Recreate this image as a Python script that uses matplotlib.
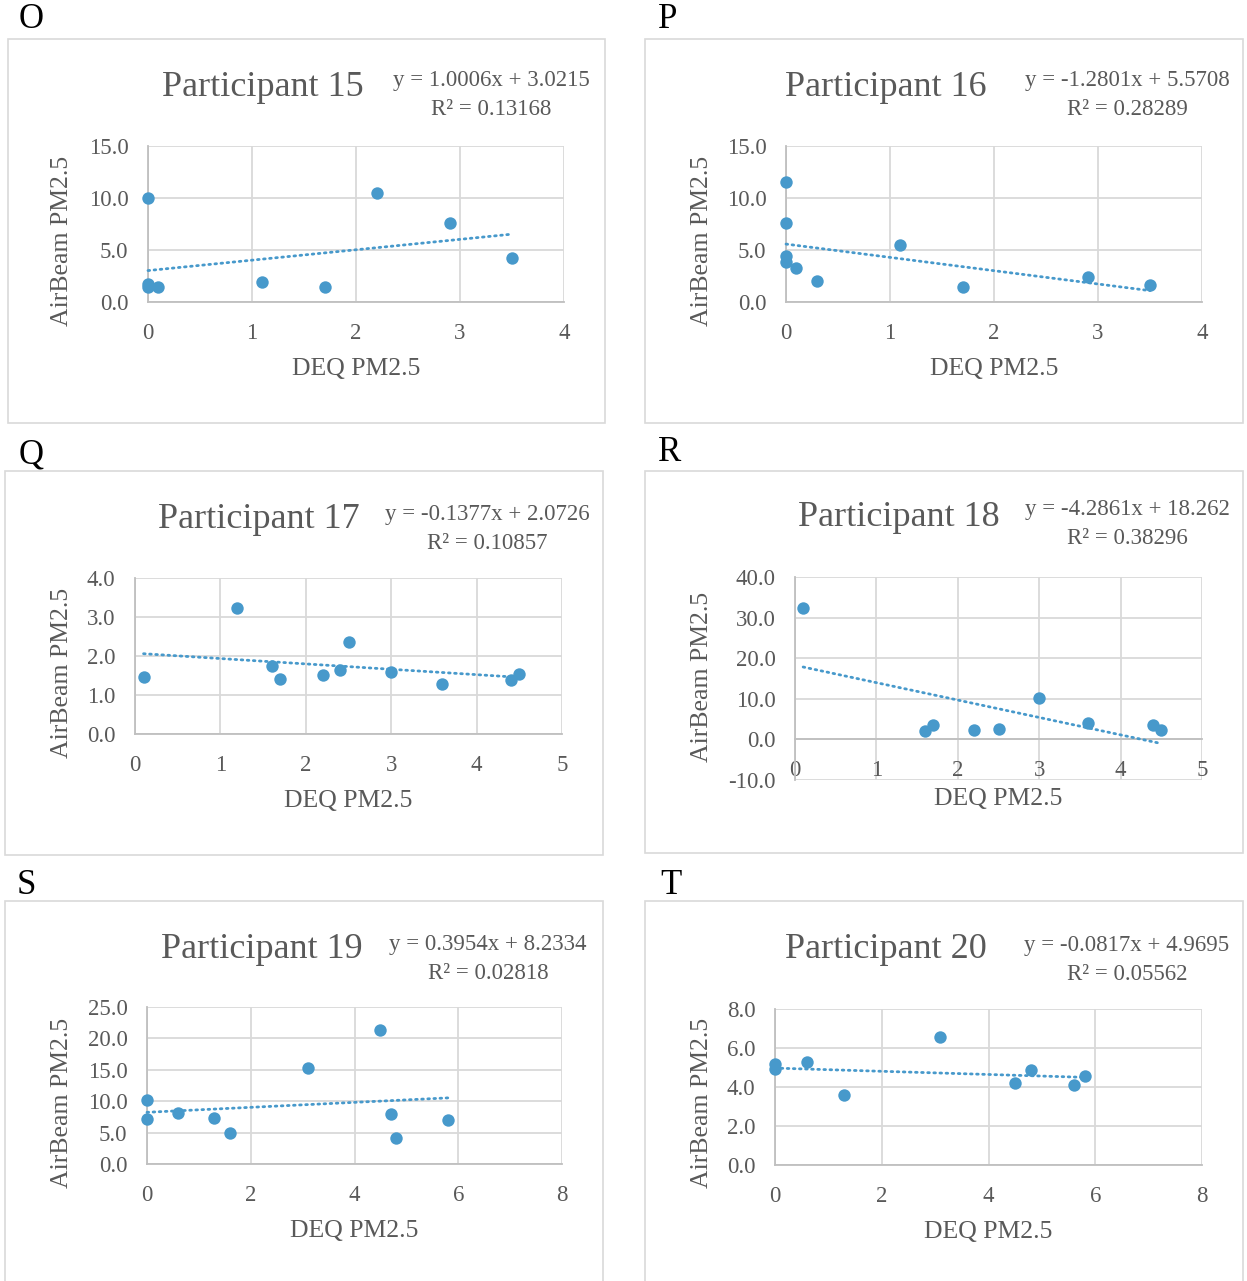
import matplotlib
matplotlib.use("Agg")
import matplotlib.pyplot as plt
from matplotlib.patches import Rectangle
import numpy as np

plt.rcParams['font.family'] = ['Liberation Serif', 'DejaVu Serif']

# ---------------- data ----------------
letters = ["O", "P", "Q", "R", "S", "T"]
titles = ["Participant 15", "Participant 16", "Participant 17",
          "Participant 18", "Participant 19", "Participant 20"]
equations = ["y = 1.0006x + 3.0215", "y = -1.2801x + 5.5708", "y = -0.1377x + 2.0726",
             "y = -4.2861x + 18.262", "y = 0.3954x + 8.2334", "y = -0.0817x + 4.9695"]
r2_labels = ["R² = 0.13168", "R² = 0.28289", "R² = 0.10857",
             "R² = 0.38296", "R² = 0.02818", "R² = 0.05562"]
slopes = [1.0006, -1.2801, -0.1377, -4.2861, 0.3954, -0.0817]
intercepts = [3.0215, 5.5708, 2.0726, 18.262, 8.2334, 4.9695]

p15_x = [0, 0, 0, 0.1, 1.1, 1.7, 2.2, 2.9, 3.5]
p15_y = [10.0, 1.7, 1.45, 1.47, 1.9, 1.47, 10.45, 7.6, 4.2]

p16_x = [0, 0, 0, 0, 0.1, 0.3, 1.1, 1.7, 2.9, 3.5]
p16_y = [11.5, 7.56, 4.45, 3.8, 3.27, 2.0, 5.5, 1.4, 2.4, 1.6]

p17_x = [0.1, 1.2, 1.6, 1.7, 2.2, 2.4, 2.5, 3.0, 3.6, 4.4, 4.5]
p17_y = [1.47, 3.22, 1.74, 1.41, 1.51, 1.63, 2.37, 1.58, 1.29, 1.39, 1.55]

p18_x = [0.1, 1.6, 1.7, 2.2, 2.5, 3.0, 3.6, 4.4, 4.5]
p18_y = [32.3, 2.1, 3.66, 2.3, 2.5, 10.3, 4.1, 3.5, 2.4]

p19_x = [0, 0, 0.6, 1.3, 1.6, 3.1, 4.5, 4.7, 4.8, 5.8]
p19_y = [10.2, 7.1, 8.1, 7.3, 4.95, 15.3, 21.4, 8.0, 4.2, 7.0]

p20_x = [0, 0, 0.6, 1.3, 3.1, 4.5, 4.8, 5.6, 5.8]
p20_y = [5.2, 4.94, 5.29, 3.58, 6.56, 4.21, 4.89, 4.1, 4.56]

xs = [p15_x, p16_x, p17_x, p18_x, p19_x, p20_x]
ys = [p15_y, p16_y, p17_y, p18_y, p19_y, p20_y]

x_ticks = [[0, 1, 2, 3, 4], [0, 1, 2, 3, 4], [0, 1, 2, 3, 4, 5],
           [0, 1, 2, 3, 4, 5], [0, 2, 4, 6, 8], [0, 2, 4, 6, 8]]
y_ticks = [[0, 5, 10, 15], [0, 5, 10, 15], [0, 1, 2, 3, 4],
           [-10, 0, 10, 20, 30, 40], [0, 5, 10, 15, 20, 25], [0, 2, 4, 6, 8]]

x_label = "DEQ PM2.5"
y_label = "AirBeam PM2.5"

# ---------------- layout (pixels) ----------------
W, H = 1247, 1281
fig = plt.figure(figsize=(W / 100, H / 100), dpi=100)

def fx(px):
    return px / W

def fy(py):
    return 1 - py / H

# box: (left, top, right, bottom)
boxes = [(8, 39, 605, 423), (645, 39, 1243, 423),
         (5, 471, 603, 855), (645, 471, 1243, 853),
         (5, 901, 603, 1290), (645, 901, 1243, 1290)]
# plot area: (left, top, right, bottom)
plots = [(148, 146, 564, 302), (786, 146, 1202, 302),
         (135, 578, 562, 734), (795, 577, 1202, 780),
         (147, 1007, 562, 1164), (775, 1009, 1202, 1165)]
letter_pos = [(19, 20), (658, 20), (19, 455), (658, 453), (17, 886), (660, 886)]
title_pos = [(263, 87), (886, 87), (259, 519), (899, 517), (262, 949), (886, 949)]
eq_pos = [(491, 95), (1127, 95), (487, 529), (1127, 524), (488, 959), (1127, 960)]
xlab_pos = [(356, 369), (994, 369), (348, 801), (998, 799), (354, 1231), (988, 1232)]
ylab_pos = [(62, 241), (702, 241), (62, 673), (702, 677), (62, 1103), (702, 1103)]

dot_color = "#4799CB"
grid_color = "#D9D9D9"
axis_color = "#BFBFBF"
text_color = "#595959"

for i in range(6):
    bl, bt, br, bb = boxes[i]
    fig.patches.append(Rectangle((fx(bl), fy(bb)), fx(br) - fx(bl), fy(bt) - fy(bb),
                                 transform=fig.transFigure, fill=False,
                                 edgecolor=grid_color, linewidth=1.2, zorder=0))
    lx, ly = letter_pos[i]
    fig.text(fx(lx), fy(ly), letters[i], fontsize=25, color="black",
             ha="left", va="center")
    tx, ty = title_pos[i]
    fig.text(fx(tx), fy(ty), titles[i], fontsize=26, color=text_color,
             ha="center", va="center")
    ex, ey = eq_pos[i]
    fig.text(fx(ex), fy(ey), equations[i] + "\n" + r2_labels[i], fontsize=16.5,
             color=text_color, ha="center", va="center", linespacing=1.45,
             multialignment="center")
    xx, xy = xlab_pos[i]
    fig.text(fx(xx), fy(xy), x_label, fontsize=18.5, color=text_color,
             ha="center", va="center")
    yx, yy = ylab_pos[i]
    fig.text(fx(yx), fy(yy), y_label, fontsize=18.5, color=text_color,
             ha="center", va="center", rotation=90)

    pl, pt, pr, pb = plots[i]
    ax = fig.add_axes([fx(pl), fy(pb), fx(pr) - fx(pl), fy(pt) - fy(pb)])
    ax.set_facecolor("none")
    xt, yt = x_ticks[i], y_ticks[i]
    ax.set_xlim(xt[0], xt[-1])
    ax.set_ylim(yt[0], yt[-1])
    ax.set_xticks(xt)
    ax.set_yticks(yt)
    ax.set_xticklabels([str(v) for v in xt])
    ax.set_yticklabels([f"{v:.1f}" for v in yt])
    ax.tick_params(length=0, labelsize=16.5, colors=text_color)
    ax.tick_params(axis="x", pad=15)
    ax.tick_params(axis="y", pad=14)
    # grid
    for v in xt:
        ax.axvline(v, color=grid_color, linewidth=1.3, zorder=1)
    for v in yt:
        ax.axhline(v, color=grid_color, linewidth=1.3, zorder=1)
    for s in ["top", "right"]:
        ax.spines[s].set_visible(False)
    ax.spines["left"].set_color(axis_color)
    ax.spines["bottom"].set_color(axis_color)
    ax.spines["left"].set_linewidth(1.3)
    ax.spines["bottom"].set_linewidth(1.3)
    if yt[0] < 0:
        ax.spines["bottom"].set_position(("data", 0))
    ax.spines["left"].set_zorder(2)
    ax.spines["bottom"].set_zorder(2)

    ax.scatter(xs[i], ys[i], s=80, color=dot_color, zorder=4, clip_on=False,
               linewidths=0)
    x0, x1 = min(xs[i]), max(xs[i])
    lx_arr = np.array([x0, x1])
    ax.plot(lx_arr, slopes[i] * lx_arr + intercepts[i], color=dot_color,
            linewidth=2.0, linestyle=(0, (0.6, 1.6)), dash_capstyle="round",
            zorder=3, clip_on=False)

fig.savefig("out.png", dpi=100, facecolor="white")
